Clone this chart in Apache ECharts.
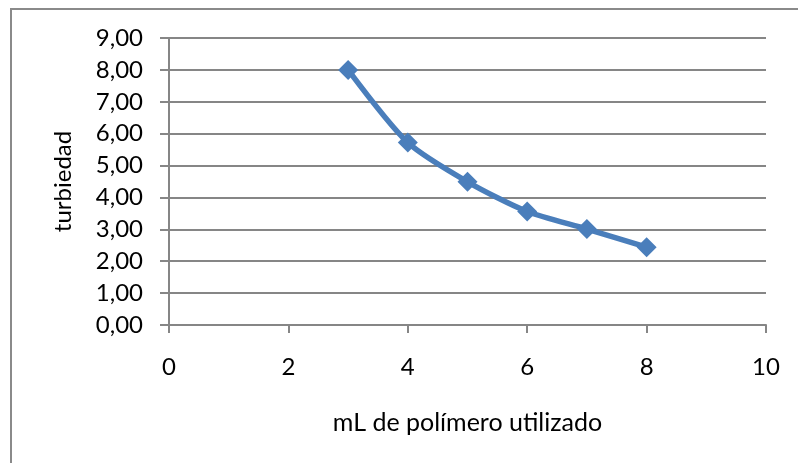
<!DOCTYPE html>
<html>
<head>
	<meta charset="utf-8">
	<title>turbiedad</title>
	<style>
		html, body { margin: 0; padding: 0; background: #fff; }
		#frame { position: absolute; left: 10px; top: 8px; width: 800px; height: 480px; border: 2px solid #8a8a8a; }
		#container { position: absolute; left: 0; top: 0; width: 798px; height: 463px; }
	</style>
</head>
<body>
<script src="https://cdn.jsdelivr.net/npm/echarts@6/dist/echarts.min.js"></script>
<div id="frame"></div>
<div id="container"></div>
<script type="text/javascript">
	// mL de polímero y turbiedad medida
	var mlPolimero = [3, 4, 5, 6, 7, 8];
	var turbiedad = [8.00, 5.72, 4.49, 3.56, 3.01, 2.44];

	var puntos = [];
	for (var i = 0; i < mlPolimero.length; i++) {
		puntos.push([mlPolimero[i], turbiedad[i]]);
	}

	var fuente = 'Lato';
	var myChart = echarts.init(document.getElementById('container'));
	var option = {
		animation: false,
		grid: { left: 169, right: 32, top: 38, bottom: 138 },
		xAxis: {
			type: 'value', min: 0, max: 10, interval: 2,
			name: 'mL de polímero utilizado',
			nameLocation: 'middle', nameGap: 85,
			nameTextStyle: { fontFamily: fuente, fontSize: 25, color: '#000' },
			axisLine: { lineStyle: { color: '#868686', width: 2 } },
			axisTick: { show: true, length: 8, lineStyle: { color: '#868686', width: 2 } },
			axisLabel: { fontFamily: fuente, fontSize: 24, color: '#000', margin: 30 },
			splitLine: { show: false }
		},
		yAxis: {
			type: 'value', min: 0, max: 9, interval: 1,
			name: 'turbiedad',
			nameLocation: 'middle', nameGap: 94,
			nameTextStyle: { fontFamily: fuente, fontSize: 24, color: '#000' },
			axisLine: { show: true, lineStyle: { color: '#868686', width: 2 } },
			axisTick: { show: true, length: 9, lineStyle: { color: '#868686', width: 2 } },
			axisLabel: {
				fontFamily: fuente, fontSize: 24, color: '#000', margin: 26,
				formatter: function (v) { return v.toFixed(2).replace('.', ','); }
			},
			splitLine: { lineStyle: { color: '#868686', width: 2 } }
		},
		series: [{
			type: 'line',
			data: puntos,
			smooth: 0.25,
			symbol: 'diamond',
			symbolSize: 20,
			lineStyle: { color: '#4a7ebb', width: 5.5 },
			itemStyle: { color: '#4a7ebb' }
		}]
	};
	myChart.setOption(option);
</script>
</body>
</html>
